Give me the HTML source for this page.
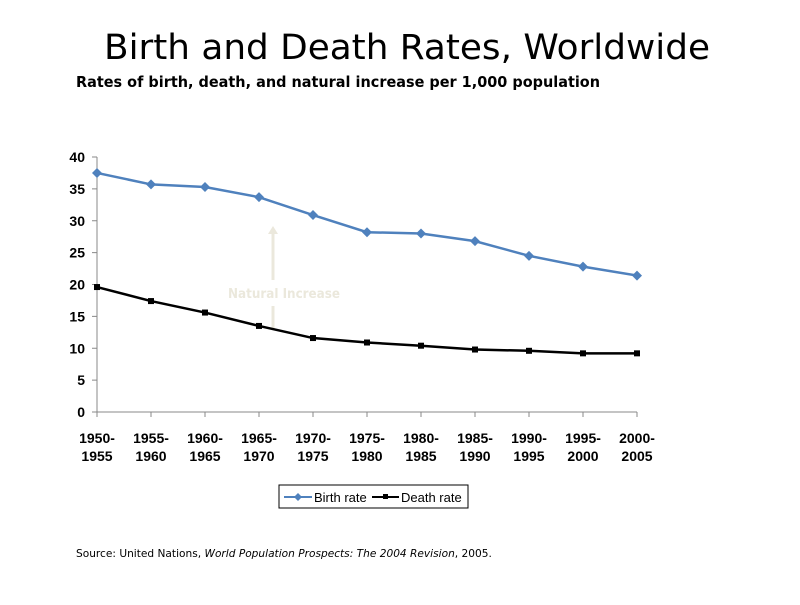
<!DOCTYPE html>
<html><head><meta charset="utf-8"><style>
body{margin:0;background:#fff;width:800px;height:600px;overflow:hidden;font-family:"Liberation Sans",sans-serif}
</style></head><body>
<svg width="800" height="600" xmlns="http://www.w3.org/2000/svg">
<text x="104" y="59" textLength="606" lengthAdjust="spacingAndGlyphs" font-size="35" font-family="DejaVu Sans, Liberation Sans, sans-serif" fill="#000">Birth and Death Rates, Worldwide</text>
<text x="76" y="87" textLength="524" lengthAdjust="spacingAndGlyphs" font-size="15.5" font-weight="bold" font-family="DejaVu Sans, Liberation Sans, sans-serif" fill="#000">Rates of birth, death, and natural increase per 1,000 population</text>
<g id="axes"></g>
<g id="annot">
<line x1="273" y1="232" x2="273" y2="280" stroke="#ebe8dc" stroke-width="3"/>
<polygon points="268,234 273,226 278,234" fill="#ebe8dc"/>
<line x1="273" y1="306" x2="273" y2="330" stroke="#ebe8dc" stroke-width="3"/>
<text x="228" y="298" textLength="112" lengthAdjust="spacingAndGlyphs" font-size="13" font-weight="bold" fill="#ebe8dc" font-family="DejaVu Sans, sans-serif">Natural Increase</text>
</g>
<g id="series"></g>
<g>
<rect x="279" y="485" width="189" height="23" fill="#fff" stroke="#000" stroke-width="1"/>
<line x1="284" y1="497" x2="312" y2="497" stroke="#4f81bd" stroke-width="2"/>
<polygon points="298,493 302,497 298,501 294,497" fill="#4f81bd"/>
<text x="314" y="502" font-size="13">Birth rate</text>
<line x1="372" y1="497" x2="399" y2="497" stroke="#000" stroke-width="2"/>
<rect x="383" y="494" width="5" height="5" fill="#000"/>
<text x="401" y="502" font-size="13">Death rate</text>
</g>
<text x="76" y="557" font-size="10.6" font-family="DejaVu Sans, Liberation Sans, sans-serif">Source: United Nations, <tspan font-style="italic">World Population Prospects: The 2004 Revision</tspan>, 2005.</text>
</svg>
<script>
const categories=[["1950-","1955"],["1955-","1960"],["1960-","1965"],["1965-","1970"],["1970-","1975"],["1975-","1980"],["1980-","1985"],["1985-","1990"],["1990-","1995"],["1995-","2000"],["2000-","2005"]];
const birthRate=[37.5,35.7,35.3,33.7,30.9,28.2,28.0,26.8,24.5,22.8,21.4];
const deathRate=[19.6,17.4,15.6,13.5,11.6,10.9,10.4,9.8,9.6,9.2,9.2];
const yTicks=[0,5,10,15,20,25,30,35,40];
const NS="http://www.w3.org/2000/svg";
const x0=97,x1=637,yb=412,yt=157;
const xs=i=>x0+(x1-x0)*i/(categories.length-1);
const ys=v=>yb-(yb-yt)*v/40;
function mk(t,a,p){const e=document.createElementNS(NS,t);for(const k in a)e.setAttribute(k,a[k]);p.appendChild(e);return e;}
const ax=document.getElementById('axes');
const ya=mk('line',{x1:x0,y1:yt,x2:x0,y2:yb,stroke:'#888','stroke-width':1},ax);


const xa=mk('line',{x1:x0,y1:yb,x2:x1,y2:yb,stroke:'#888','stroke-width':1},ax);


yTicks.forEach(v=>{
 mk('line',{x1:x0-5,y1:ys(v),x2:x0,y2:ys(v),stroke:'#888'},ax);
 const t=mk('text',{x:x0-12,y:ys(v)+5,'text-anchor':'end','font-size':14,'font-weight':'bold'},ax);
 t.textContent=v;
 
 
});
categories.forEach((c,i)=>{
 mk('line',{x1:xs(i),y1:yb,x2:xs(i),y2:yb+5,stroke:'#888'},ax);
 const t=mk('text',{x:xs(i),y:yb+31,'text-anchor':'middle','font-size':14,'font-weight':'bold'},ax);
 
 
 mk('tspan',{x:xs(i),dy:0},t).textContent=c[0];
 mk('tspan',{x:xs(i),dy:18},t).textContent=c[1];
});
const sg=document.getElementById('series');
const bl=mk('polyline',{points:birthRate.map((v,i)=>xs(i)+','+ys(v)).join(' '),fill:'none',stroke:'#4f81bd','stroke-width':2.5},sg);


birthRate.forEach((v,i)=>{
 const p=mk('polygon',{points:`${xs(i)},${ys(v)-5} ${xs(i)+5},${ys(v)} ${xs(i)},${ys(v)+5} ${xs(i)-5},${ys(v)}`,fill:'#4f81bd'},sg);
 
 
});
const dl=mk('polyline',{points:deathRate.map((v,i)=>xs(i)+','+ys(v)).join(' '),fill:'none',stroke:'#000','stroke-width':2.5},sg);


deathRate.forEach((v,i)=>{
 const p=mk('rect',{x:xs(i)-3,y:ys(v)-3,width:6,height:6,fill:'#000'},sg);
 
 
});
</script>
</body></html>
